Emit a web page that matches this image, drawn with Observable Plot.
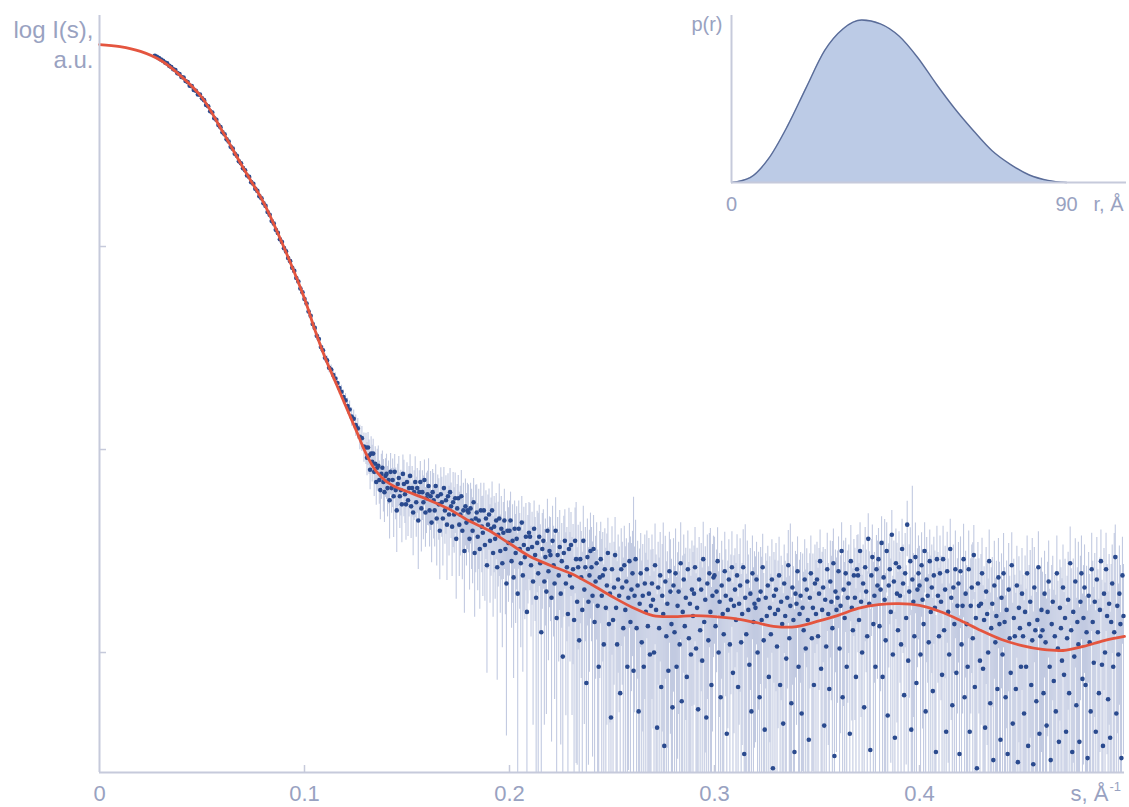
<!DOCTYPE html>
<html><head><meta charset="utf-8">
<script src="https://cdn.jsdelivr.net/npm/d3@7"></script>
<script src="https://cdn.jsdelivr.net/npm/@observablehq/plot@0.6"></script>
<style>
body{margin:0;background:#fff;}
#chart{position:relative;width:1129px;height:807px;font-family:"Liberation Sans",Arial,sans-serif;}
#chart svg{position:absolute;}
</style></head><body><div id="chart"></div>
<script>
// ---- fitted curve (red) : s [1/Å], log10 I ----
const fitS = [0,0.01,0.02,0.03,0.04,0.05,0.06,0.07,0.08,0.09,0.1,0.105,0.11,0.115,0.12,0.125,0.13,0.135,0.14,0.145,0.15,0.16,0.17,0.18,0.19,0.2,0.21,0.22,0.23,0.24,0.25,0.26,0.27,0.28,0.29,0.3,0.31,0.32,0.33,0.34,0.35,0.36,0.37,0.38,0.39,0.4,0.41,0.42,0.43,0.44,0.45,0.46,0.47,0.48,0.49,0.5];
const fitLogI = [-0.005,-0.015,-0.039,-0.084,-0.163,-0.266,-0.433,-0.611,-0.783,-1.005,-1.256,-1.409,-1.547,-1.665,-1.783,-1.901,-2.020,-2.108,-2.158,-2.187,-2.207,-2.246,-2.291,-2.350,-2.399,-2.463,-2.527,-2.571,-2.611,-2.665,-2.724,-2.778,-2.818,-2.823,-2.818,-2.823,-2.833,-2.852,-2.872,-2.872,-2.847,-2.818,-2.783,-2.764,-2.759,-2.768,-2.798,-2.842,-2.892,-2.936,-2.966,-2.985,-2.990,-2.970,-2.941,-2.921];

// ---- experimental points: s, log10 I, sigma (x1e-3, linear units) ----
const sExp = [
.027,.028,.029,.030,.031,.032,.033,.034,.035,.036,.037,.038,.039,.040,.041,.042,.043,.044,.045,.046,
.047,.048,.049,.050,.051,.052,.053,.054,.055,.056,.057,.058,.059,.060,.061,.062,.063,.064,.065,.066,
.067,.068,.069,.070,.071,.072,.073,.074,.075,.076,.077,.078,.079,.080,.081,.082,.083,.084,.085,.086,
.087,.088,.089,.090,.091,.092,.093,.094,.095,.096,.097,.098,.099,.100,.101,.102,.103,.104,.105,.106,
.107,.108,.109,.110,.111,.112,.113,.114,.115,.116,.117,.118,.119,.120,.121,.122,.123,.124,.125,.126,
.127,.128,.129,
.1300,.1305,.1310,.1315,.1320,.1325,.1330,.1335,.1340,.1345,.1350,.1355,.1360,.1365,.1370,.1375,.1380,.1385,.1390,.1395,
.1400,.1405,.1410,.1415,.1420,.1425,.1430,.1435,.1440,.1445,.1450,.1455,.1460,.1465,.1470,.1475,.1480,.1485,.1490,.1495,
.1500,.1505,.1510,.1515,.1520,.1525,.1530,.1535,.1540,.1545,.1550,.1555,.1560,.1565,.1570,.1575,.1580,.1585,.1590,.1595,
.1600,.1605,.1610,.1615,.1620,.1625,.1630,.1635,.1640,.1645,.1650,.1655,.1660,.1665,.1670,.1675,.1680,.1685,.1690,.1695,
.1700,.1705,.1710,.1715,.1720,.1725,.1730,.1735,.1740,.1745,.1750,.1755,.1760,.1765,.1770,.1775,.1780,.1785,.1790,.1795,
.1800,.1805,.1810,.1815,.1820,.1825,.1830,.1835,.1840,.1845,.1850,.1855,.1860,.1865,.1870,.1875,.1880,.1885,.1890,.1895,
.1900,.1905,.1910,.1915,.1920,.1925,.1930,.1935,.1940,.1945,.1950,.1955,.1960,.1965,.1970,.1975,.1980,.1985,.1990,.1995,
.2000,.2005,.2010,.2015,.2020,.2025,.2030,.2035,.2040,.2045,.2050,.2055,.2060,.2065,.2070,.2075,.2080,.2085,.2090,.2095,
.2100,.2105,.2110,.2115,.2120,.2125,.2130,.2135,.2140,.2145,.2150,.2155,.2160,.2165,.2170,.2175,.2180,.2185,.2190,.2195,
.2200,.2205,.2210,.2215,.2220,.2225,.2230,.2235,.2240,.2245,.2250,.2255,.2260,.2265,.2270,.2275,.2280,.2285,.2290,.2295,
.2300,.2305,.2310,.2315,.2320,.2325,.2330,.2335,.2340,.2345,.2350,.2355,.2360,.2365,.2370,.2375,.2380,.2385,.2390,.2395,
.2400,.2405,.2410,.2415,.2420,.2425,.2430,.2435,.2440,.2445,.2450,.2455,.2460,.2465,.2470,.2475,.2480,.2485,.2490,.2495,
.2500,.2505,.2510,.2515,.2520,.2525,.2530,.2535,.2540,.2545,.2550,.2555,.2560,.2565,.2570,.2575,.2580,.2585,.2590,.2595,
.2600,.2605,.2610,.2615,.2620,.2625,.2630,.2635,.2640,.2645,.2650,.2655,.2660,.2665,.2670,.2675,.2680,.2685,.2690,.2695,
.2700,.2705,.2710,.2715,.2720,.2725,.2730,.2735,.2740,.2745,.2750,.2755,.2760,.2765,.2770,.2775,.2780,.2785,.2790,.2795,
.2800,.2805,.2810,.2815,.2820,.2825,.2830,.2835,.2840,.2845,.2850,.2855,.2860,.2865,.2870,.2875,.2880,.2885,.2890,.2895,
.2900,.2905,.2910,.2915,.2920,.2925,.2930,.2935,.2940,.2945,.2950,.2955,.2960,.2965,.2970,.2975,.2980,.2985,.2990,.2995,
.3000,.3005,.3010,.3015,.3020,.3025,.3030,.3035,.3040,.3045,.3050,.3055,.3060,.3065,.3070,.3075,.3080,.3085,.3090,.3095,
.3100,.3105,.3110,.3115,.3120,.3125,.3130,.3135,.3140,.3145,.3150,.3155,.3160,.3165,.3170,.3175,.3180,.3185,.3190,.3195,
.3200,.3205,.3210,.3215,.3220,.3225,.3230,.3235,.3240,.3245,.3250,.3255,.3260,.3265,.3270,.3275,.3280,.3285,.3290,.3295,
.3300,.3305,.3310,.3315,.3320,.3325,.3330,.3335,.3340,.3345,.3350,.3355,.3360,.3365,.3370,.3375,.3380,.3385,.3390,.3395,
.3400,.3405,.3410,.3415,.3420,.3425,.3430,.3435,.3440,.3445,.3450,.3455,.3460,.3465,.3470,.3475,.3480,.3485,.3490,.3495,
.3500,.3505,.3510,.3515,.3520,.3525,.3530,.3535,.3540,.3545,.3550,.3555,.3560,.3565,.3570,.3575,.3580,.3585,.3590,.3595,
.3600,.3605,.3610,.3615,.3620,.3625,.3630,.3635,.3640,.3645,.3650,.3655,.3660,.3665,.3670,.3675,.3680,.3685,.3690,.3695,
.3700,.3705,.3710,.3715,.3720,.3725,.3730,.3735,.3740,.3745,.3750,.3755,.3760,.3765,.3770,.3775,.3780,.3785,.3790,.3795,
.3800,.3805,.3810,.3815,.3820,.3825,.3830,.3835,.3840,.3845,.3850,.3855,.3860,.3865,.3870,.3875,.3880,.3885,.3890,.3895,
.3900,.3905,.3910,.3915,.3920,.3925,.3930,.3935,.3940,.3945,.3950,.3955,.3960,.3965,.3970,.3975,.3980,.3985,.3990,.3995,
.4000,.4005,.4010,.4015,.4020,.4025,.4030,.4035,.4040,.4045,.4050,.4055,.4060,.4065,.4070,.4075,.4080,.4085,.4090,.4095,
.4100,.4105,.4110,.4115,.4120,.4125,.4130,.4135,.4140,.4145,.4150,.4155,.4160,.4165,.4170,.4175,.4180,.4185,.4190,.4195,
.4200,.4205,.4210,.4215,.4220,.4225,.4230,.4235,.4240,.4245,.4250,.4255,.4260,.4265,.4270,.4275,.4280,.4285,.4290,.4295,
.4300,.4305,.4310,.4315,.4320,.4325,.4330,.4335,.4340,.4345,.4350,.4355,.4360,.4365,.4370,.4375,.4380,.4385,.4390,.4395,
.4400,.4405,.4410,.4415,.4420,.4425,.4430,.4435,.4440,.4445,.4450,.4455,.4460,.4465,.4470,.4475,.4480,.4485,.4490,.4495,
.4500,.4505,.4510,.4515,.4520,.4525,.4530,.4535,.4540,.4545,.4550,.4555,.4560,.4565,.4570,.4575,.4580,.4585,.4590,.4595,
.4600,.4605,.4610,.4615,.4620,.4625,.4630,.4635,.4640,.4645,.4650,.4655,.4660,.4665,.4670,.4675,.4680,.4685,.4690,.4695,
.4700,.4705,.4710,.4715,.4720,.4725,.4730,.4735,.4740,.4745,.4750,.4755,.4760,.4765,.4770,.4775,.4780,.4785,.4790,.4795,
.4800,.4805,.4810,.4815,.4820,.4825,.4830,.4835,.4840,.4845,.4850,.4855,.4860,.4865,.4870,.4875,.4880,.4885,.4890,.4895,
.4900,.4905,.4910,.4915,.4920,.4925,.4930,.4935,.4940,.4945,.4950,.4955,.4960,.4965,.4970,.4975,.4980,.4985,.4990,.4995];

const logIExp = [
-0.060,-0.066,-0.072,-0.079,-0.085,-0.094,-0.098,-0.110,-0.116,-0.127,
-0.131,-0.146,-0.150,-0.165,-0.168,-0.185,-0.190,-0.208,-0.210,-0.229,
-0.233,-0.251,-0.252,-0.270,-0.279,-0.303,-0.309,-0.334,-0.340,-0.368,
-0.376,-0.402,-0.412,-0.437,-0.447,-0.472,-0.483,-0.509,-0.518,-0.543,
-0.553,-0.580,-0.590,-0.614,-0.624,-0.650,-0.657,-0.683,-0.691,-0.716,
-0.726,-0.752,-0.762,-0.787,-0.800,-0.830,-0.844,-0.874,-0.887,-0.918,
-0.933,-0.964,-0.978,-1.008,-1.024,-1.057,-1.072,-1.105,-1.120,-1.155,
-1.172,-1.207,-1.225,-1.259,-1.281,-1.320,-1.341,-1.382,-1.401,-1.440,
-1.456,-1.495,-1.511,-1.548,-1.561,-1.597,-1.606,-1.633,-1.650,-1.672,
-1.697,-1.716,-1.741,-1.758,-1.786,-1.803,-1.838,-1.849,-1.880,-1.896,
-1.937,-1.944,-1.985,
-1.99,-2.04,-1.99,-2.03,-2.10,-2.02,-2.06,-2.02,-2.11,-2.07,-2.16,-2.09,-2.08,-2.15,-2.20,-2.12,-2.09,-2.16,-2.21,-2.13,
-2.12,-2.19,-2.15,-2.25,-2.11,-2.19,-2.15,-2.23,-2.11,-2.20,-2.30,-2.17,-2.14,-2.23,-2.20,-2.27,-2.12,-2.17,-2.22,-2.27,
-2.16,-2.25,-2.19,-2.13,-2.28,-2.19,-2.31,-2.21,-2.16,-2.26,-2.19,-2.35,-2.21,-2.16,-2.29,-2.21,-2.26,-2.15,-2.31,-2.24,
-2.22,-2.18,-2.30,-2.23,-2.36,-2.21,-2.25,-2.30,-2.18,-2.34,-2.23,-2.27,-2.40,-2.22,-2.26,-2.34,-2.19,-2.30,-2.25,-2.37,
-2.23,-2.32,-2.21,-2.28,-2.38,-2.26,-2.32,-2.24,-2.44,-2.29,-2.24,-2.37,-2.32,-2.23,-2.40,-2.30,-2.50,-2.28,-2.36,-2.30,
-2.31,-2.44,-2.29,-2.35,-2.40,-2.26,-2.51,-2.34,-2.31,-2.43,-2.35,-2.49,-2.30,-2.38,-2.41,-2.30,-2.47,-2.34,-2.57,-2.37,
-2.32,-2.45,-2.39,-2.30,-2.51,-2.38,-2.44,-2.35,-2.58,-2.42,-2.34,-2.50,-2.39,-2.56,-2.41,-2.35,-2.49,-2.66,-2.40,-2.46,
-2.40,-2.35,-2.55,-2.45,-2.63,-2.39,-2.51,-2.44,-2.71,-2.39,-2.49,-2.56,-2.36,-2.62,-2.47,-2.53,-2.43,-2.80,-2.49,-2.41,
-2.43,-2.57,-2.48,-2.65,-2.39,-2.52,-2.73,-2.46,-2.61,-2.43,-2.56,-2.90,-2.49,-2.45,-2.65,-2.53,-2.70,-2.40,-2.60,-2.50,
-2.52,-2.73,-2.45,-2.57,-2.66,-2.40,-2.83,-2.52,-2.62,-2.48,-2.71,-2.55,-3.02,-2.51,-2.45,-2.66,-2.58,-2.81,-2.49,-2.62,
-2.47,-2.68,-2.59,-2.84,-2.45,-2.54,-2.75,-2.58,-2.94,-2.54,-2.63,-2.79,-2.45,-2.69,-2.58,-3.15,-2.53,-2.75,-2.62,-2.50,
-2.58,-2.72,-2.49,-2.85,-2.65,-2.56,-2.77,-3.07,-2.63,-2.54,-2.72,-2.62,-2.96,-2.59,-2.78,-2.67,-2.51,-2.86,-2.71,-3.32,
-2.59,-2.84,-2.68,-2.52,-2.78,-2.96,-2.64,-2.72,-3.20,-2.59,-2.68,-2.88,-2.57,-2.79,-2.65,-3.07,-2.73,-2.55,-2.85,-2.69,
-2.61,-3.09,-2.72,-2.54,-2.88,-2.67,-3.29,-2.76,-2.61,-2.95,-2.72,-3.07,-2.66,-2.80,-2.59,-2.87,-2.71,-3.01,-2.77,-2.66,
-2.74,-3.00,-2.57,-2.79,-3.37,-2.68,-2.88,-2.62,-3.17,-2.72,-2.81,-3.46,-2.65,-2.92,-2.76,-3.09,-2.60,-2.70,-2.86,-3.27,
-2.67,-2.90,-2.61,-3.07,-2.77,-2.70,-2.96,-2.56,-3.24,-2.80,-2.64,-2.87,-2.73,-3.12,-2.59,-2.93,-2.76,-3.01,-2.69,-2.82,
-2.71,-2.58,-2.98,-2.78,-3.28,-2.64,-2.89,-2.69,-3.04,-2.54,-2.85,-2.74,-3.32,-2.66,-2.94,-2.61,-2.80,-3.16,-2.72,-2.63,
-2.62,-2.87,-2.70,-2.55,-3.00,-2.75,-3.22,-2.67,-2.81,-2.91,-2.60,-2.72,-3.40,-2.79,-2.64,-2.96,-2.74,-2.58,-3.10,-2.77,
-2.69,-2.84,-2.62,-3.17,-2.76,-2.67,-2.95,-2.81,-2.58,-3.50,-2.73,-2.91,-2.65,-2.79,-3.06,-2.71,-3.29,-2.61,-2.85,-2.76,
-2.78,-2.64,-3.00,-2.74,-3.22,-2.70,-2.84,-2.58,-2.94,-3.38,-2.73,-2.82,-2.67,-3.12,-2.78,-2.91,-2.64,-3.57,-2.72,-2.81,
-2.69,-2.97,-2.79,-2.62,-3.16,-2.75,-2.86,-3.35,-2.66,-2.82,-3.03,-2.73,-2.57,-2.93,-2.77,-3.25,-2.68,-2.84,-3.49,-2.71,
-2.76,-2.60,-3.07,-2.81,-2.72,-3.30,-2.78,-2.89,-2.64,-2.98,-2.69,-2.84,-3.43,-2.73,-2.61,-2.93,-2.78,-3.16,-2.66,-2.81,
-2.64,-2.92,-2.71,-2.55,-3.08,-2.79,-2.68,-3.36,-2.74,-2.97,-2.59,-2.81,-3.18,-2.65,-2.75,-2.88,-2.56,-3.51,-2.70,-2.79,
-2.73,-2.60,-2.98,-2.77,-2.50,-3.22,-2.69,-2.83,-2.61,-3.07,-2.73,-2.66,-3.40,-2.55,-2.78,-2.89,-2.62,-2.73,-3.12,-2.59,
-2.62,-2.84,-2.50,-2.75,-3.00,-2.66,-3.27,-2.58,-2.70,-2.92,-2.44,-2.76,-3.48,-2.62,-2.53,-2.86,-2.72,-3.07,-2.59,-2.67,
-2.54,-2.87,-2.69,-2.46,-3.12,-2.63,-2.74,-2.94,-2.50,-3.31,-2.67,-2.59,-2.80,-2.42,-3.01,-2.65,-3.42,-2.56,-2.71,-2.89,
-2.58,-2.72,-2.96,-2.49,-2.66,-3.21,-2.61,-2.83,-2.37,-3.04,-2.70,-2.55,-3.38,-2.64,-2.75,-2.92,-2.53,-3.15,-2.69,-2.61,
-2.67,-3.01,-2.57,-2.74,-2.86,-2.50,-3.29,-2.64,-2.72,-2.95,-2.55,-2.80,-2.68,-3.19,-2.62,-2.78,-3.49,-2.54,-2.72,-2.92,
-2.61,-2.75,-3.11,-2.54,-2.89,-2.69,-3.39,-2.60,-2.80,-3.01,-2.49,-2.73,-3.26,-2.68,-2.86,-2.59,-3.10,-2.77,-2.66,-3.50,
-2.60,-2.96,-2.77,-2.54,-3.22,-2.71,-2.86,-3.07,-2.59,-3.39,-2.77,-2.68,-2.93,-2.52,-3.17,-2.83,-3.57,-2.66,-2.77,-3.04,
-2.76,-2.61,-3.08,-2.84,-3.37,-2.70,-2.81,-3.00,-2.55,-3.25,-2.88,-2.76,-3.53,-2.67,-2.95,-2.82,-3.18,-2.63,-2.86,-3.43,
-2.73,-3.01,-2.61,-2.85,-3.22,-2.79,-3.50,-2.69,-2.93,-3.10,-2.57,-3.35,-2.83,-2.92,-3.18,-2.67,-3.54,-2.78,-2.88,-3.07,
-2.71,-2.92,-3.30,-2.80,-3.07,-2.61,-3.46,-2.86,-2.75,-3.16,-2.94,-3.55,-2.68,-2.89,-3.24,-2.84,-2.58,-3.40,-2.92,-2.79,
-2.89,-3.20,-2.71,-2.95,-3.36,-2.80,-2.65,-3.07,-3.53,-2.86,-2.75,-3.14,-2.92,-3.29,-2.61,-2.98,-3.44,-2.78,-2.88,-3.04,
-2.68,-3.11,-2.83,-3.39,-2.93,-2.74,-3.20,-2.56,-2.89,-3.49,-2.80,-3.02,-2.65,-3.26,-2.85,-2.96,-3.44,-2.75,-2.61,-3.13,
-2.83,-2.68,-3.16,-2.90,-3.52,-2.72,-2.95,-3.29,-2.59,-2.85,-3.05,-2.75,-3.39,-2.64,-2.90,-3.20,-2.79,-2.55,-3.06,-3.46,
-2.71,-3.00,-2.59,-2.82,-3.23,-2.76,-3.42,-2.85,-2.66,-3.07,-2.90,-2.53,-3.30,-2.77,-3.01,-2.71,-2.86,-3.52,-2.62,-2.82];

const sigmaExp = [
0.3,0.3,0.3,0.4,0.3,0.4,0.3,0.4,0.4,0.3,0.4,0.4,0.4,0.5,0.4,0.4,0.5,0.4,0.5,0.5,0.5,0.5,0.6,
0.5,0.6,0.5,0.6,0.6,0.6,0.7,0.6,0.6,0.7,0.7,0.7,0.6,0.7,0.8,0.7,0.7,0.8,0.8,0.7,0.8,0.8,0.9,0.8,0.8,0.9,0.8,0.9,0.9,0.9,
0.9,1.0,0.9,1.0,1.0,0.9,1.0,1.1,1.0,1.0,1.1,1.0,1.1,1.1,1.2,1.1,1.1,1.2,1.1,1.2,1.2,1.3,1.2,1.2,1.3,1.2,1.3,1.3,1.3,1.4,
1.3,1.4,1.4,1.3,1.4,1.5,1.4,1.4,1.5,1.5,1.4,1.5,1.6,1.5,1.5,1.6,1.5,1.6,1.6,1.7,
1.8,1.7,1.9,1.8,1.6,2.0,1.8,1.7,1.9,1.8,1.6,1.9,2.1,1.7,1.8,1.9,1.7,2.0,1.8,1.6,
1.9,1.8,1.7,2.0,1.8,1.6,1.9,2.2,1.7,1.8,1.9,1.7,2.0,1.8,1.6,1.9,1.8,2.1,1.7,1.8,
1.7,1.9,1.8,2.0,1.6,1.8,1.9,1.7,2.3,1.8,1.6,1.9,1.7,1.8,2.0,1.7,1.9,1.8,1.6,1.9,
1.8,2.4,1.7,1.9,1.6,1.8,2.0,1.7,1.8,1.9,1.6,1.8,1.7,2.1,1.8,1.9,1.7,1.6,1.8,2.0,
1.7,1.8,1.9,1.6,1.8,2.2,1.7,1.9,1.8,1.6,1.7,1.9,1.8,2.0,1.7,1.8,1.6,1.9,1.7,1.8,
1.8,1.6,1.7,1.9,1.8,1.7,1.6,2.1,1.8,1.7,1.9,1.6,1.8,1.7,2.0,1.8,1.6,1.7,1.9,1.7,
1.6,1.8,1.7,1.9,1.6,1.7,1.8,1.6,1.9,1.7,2.2,1.6,1.8,1.7,1.6,1.9,1.7,1.8,1.6,1.7,
1.6,1.7,1.5,1.8,1.6,1.5,1.7,1.6,1.9,1.5,1.6,1.7,1.5,1.6,1.8,1.5,1.7,1.6,1.5,1.6,
1.7,1.5,1.6,1.8,1.5,1.6,1.7,1.5,2.4,1.6,1.5,1.7,1.6,1.5,1.8,1.6,1.5,1.7,1.6,1.5,
1.6,1.5,1.7,1.5,1.6,1.8,1.5,1.6,1.5,1.7,1.6,1.5,1.8,1.6,1.5,1.7,1.5,1.6,1.9,1.5,
1.5,1.6,1.7,1.5,1.6,2.6,1.5,1.6,1.7,1.5,1.6,1.5,1.7,1.6,1.5,1.8,1.6,1.5,1.6,1.7,
1.5,1.6,1.5,1.7,1.5,1.6,1.5,1.8,1.6,1.5,1.7,1.5,1.6,1.5,1.6,1.7,1.5,1.6,1.5,1.7,
1.6,1.5,1.4,1.6,1.5,1.7,1.5,1.4,1.6,1.5,1.4,1.6,1.5,1.7,1.4,1.5,1.6,1.5,2.3,1.4,
1.5,5.0,1.4,1.6,1.5,1.4,1.6,1.5,1.4,1.7,1.5,1.4,1.6,1.5,1.4,1.5,1.7,1.4,1.5,1.6,
1.4,1.5,1.6,1.4,1.5,1.4,1.6,1.5,1.4,1.5,2.8,1.4,1.5,1.6,1.4,1.5,1.4,1.6,1.5,1.4,
1.5,1.4,1.6,1.5,1.4,1.5,1.4,1.6,1.5,1.4,1.5,1.7,1.4,1.5,1.4,1.6,1.5,1.4,1.5,1.6,
1.4,1.5,1.4,1.6,1.5,1.4,1.5,1.4,1.7,1.5,1.4,1.5,1.4,1.6,1.5,1.4,2.5,1.4,1.5,1.4,
1.3,1.4,1.2,1.3,1.5,1.3,1.2,1.4,1.3,1.2,1.4,1.3,1.5,1.2,1.3,1.4,1.2,1.3,1.4,1.3,
1.2,1.3,1.4,1.2,1.3,1.5,1.3,1.2,1.4,1.3,2.4,1.2,1.3,1.4,1.2,1.3,1.5,1.3,1.2,1.4,
1.3,1.2,1.4,1.3,1.2,1.3,1.5,1.2,1.3,1.4,1.2,1.3,1.2,1.4,1.3,1.2,1.3,1.5,1.2,1.3,
1.4,1.3,1.2,1.3,1.4,1.2,1.3,1.5,1.2,1.3,1.4,1.2,1.3,1.2,2.6,1.3,1.4,1.2,1.3,1.2,
1.3,1.2,1.4,1.3,1.2,1.3,1.4,1.2,1.3,1.5,1.2,1.3,1.4,1.2,1.3,1.2,1.4,1.3,1.2,1.3,
1.2,1.4,1.3,1.2,1.3,1.5,1.2,1.3,1.4,1.2,1.3,1.2,1.4,1.3,1.2,2.2,1.3,1.4,1.2,1.3,
1.3,1.2,1.4,1.3,1.2,1.3,1.5,1.3,1.2,1.4,1.3,1.2,1.3,1.4,1.2,1.3,1.2,1.4,1.3,1.2,
1.4,1.3,1.2,1.3,1.4,1.2,1.3,1.5,1.2,1.3,1.2,1.4,1.3,1.2,1.3,1.4,1.2,1.3,1.2,1.4,
1.2,1.3,1.4,1.2,1.3,1.2,2.7,1.3,1.2,1.4,1.3,1.2,1.3,1.2,1.4,1.3,1.2,1.3,1.5,1.2,
1.3,1.2,1.4,1.3,1.2,1.3,1.4,1.2,1.3,1.2,1.4,1.3,1.2,4.3,1.3,1.2,1.4,1.3,1.2,1.3,
1.2,1.3,1.2,1.4,1.3,1.2,1.3,1.4,1.2,1.3,1.2,1.4,1.3,1.2,1.3,1.5,1.2,1.3,1.2,1.4,
1.3,1.2,1.4,1.3,1.2,1.3,1.2,1.4,1.3,1.2,1.3,1.4,1.2,1.3,1.2,1.4,1.3,1.2,1.3,1.2,
1.2,1.3,1.2,1.4,1.3,1.2,1.3,1.2,1.4,1.3,1.2,1.3,2.3,1.2,1.3,1.4,1.2,1.3,1.2,1.3,
1.3,1.2,1.3,1.2,1.4,1.3,1.2,1.3,1.2,1.4,1.3,1.2,1.3,1.4,1.2,1.3,1.2,1.3,1.4,1.2,
1.2,1.3,1.4,1.2,1.3,1.2,1.3,1.4,1.2,1.3,1.2,1.3,1.4,1.2,1.3,1.2,1.4,1.3,1.2,1.3,
1.3,1.2,1.3,1.4,1.2,1.3,1.2,1.3,1.4,1.2,2.5,1.3,1.2,1.3,1.4,1.2,1.3,1.2,1.4,1.3,
1.2,1.3,1.2,1.3,1.4,1.2,1.3,1.2,1.4,1.3,1.2,1.3,1.2,1.4,1.3,1.2,1.3,1.2,1.3,1.4,
1.3,1.2,1.4,1.3,1.2,1.3,1.2,1.4,1.3,1.2,1.3,1.2,1.4,1.3,1.2,2.4,1.3,1.2,1.3,1.2,
1.2,1.3,1.2,1.4,1.3,1.2,1.3,1.2,1.3,1.4,1.2,1.3,1.2,1.4,1.3,1.2,1.3,1.2,1.4,1.3,
1.3,1.2,1.3,1.2,1.4,1.3,1.2,1.3,1.2,1.4,2.6,1.3,1.2,1.3,1.2,1.4,1.3,1.2,1.3,1.2];

// ---- axes ----
const xTicks = [0, 0.1, 0.2, 0.3, 0.4];
const xTickLabels = ["0", "0.1", "0.2", "0.3", "0.4"];
const yTicks = [-1, -2, -3];

// ---- inset: distance distribution p(r) ----
const rVals = [0,5,10,15,20,25,30,35,40,45,50,55,60,65,70,75,80,85,90];
const pVals = [0,0.030,0.148,0.345,0.58,0.81,0.945,0.998,0.975,0.90,0.768,0.605,0.453,0.318,0.195,0.11,0.046,0.013,0];
const rTicks = [0, 90];

// ---------------------------------------------------------------
const axisColor = "#c6cadb", textColor = "#99a2c1";
const font = "'Liberation Sans', Arial, Helvetica, sans-serif";
const yDomain = [-3.591, 0.138];

const n = Math.min(sExp.length, logIExp.length, sigmaExp.length);
const obs = [];
for (let i = 0; i < n; i++) {
  const I = Math.pow(10, logIExp[i]), e = sigmaExp[i] * 1e-3;
  obs.push({s: sExp[i], v: logIExp[i],
    hi: Math.log10(I + e),
    lo: e >= I ? yDomain[0] : Math.max(yDomain[0], Math.log10(I - e))});
}
const fit = fitS.map((s, i) => ({s, v: fitLogI[i]}));
const pr = rVals.map((r, i) => ({r, p: pVals[i]}));
const xLabel = new Map(xTicks.map((t, i) => [t, xTickLabels[i]]));

const W = 1129, H = 807, mL = 99, mR = 5, mT = 15, mB = 35;
const main = Plot.plot({
  width: W, height: H, marginLeft: mL, marginRight: mR, marginTop: mT, marginBottom: mB,
  x: {domain: [0, 0.5], axis: null},
  y: {domain: yDomain, axis: null},
  style: {fontFamily: font, color: textColor, background: "transparent", overflow: "visible"},
  marks: [
    Plot.ruleX(obs, {x: "s", y1: "lo", y2: "hi", stroke: "#c2cae1", strokeWidth: 1.1, clip: true}),
    Plot.dot(obs, {x: "s", y: "v", r: 2.3, fill: "#2a4a8e", stroke: "none"}),
    Plot.line(fit, {x: "s", y: "v", stroke: "#e4553f", strokeWidth: 2.8, curve: "catmull-rom"}),
    Plot.ruleX([0], {stroke: axisColor, strokeWidth: 2}),
    Plot.ruleY([yDomain[0]], {stroke: axisColor, strokeWidth: 2}),
    Plot.ruleX(xTicks.slice(1), {stroke: axisColor, strokeWidth: 1.5, insetTop: H - mT - mB - 7}),
    Plot.ruleY(yTicks, {stroke: axisColor, strokeWidth: 1.5, insetRight: W - mL - mR - 7}),
    Plot.axisX(xTicks, {tickSize: 0, tickPadding: 13, fontSize: 22, label: null, fill: textColor, tickFormat: d => xLabel.get(d)}),
    Plot.text(["s, Å"], {frameAnchor: "bottom-right", textAnchor: "end", lineAnchor: "top", dx: -16, dy: 13, fontSize: 22, fill: textColor}),
    Plot.text(["-1"], {frameAnchor: "bottom-right", textAnchor: "start", lineAnchor: "top", dx: -15, dy: 9, fontSize: 13, fill: textColor}),
    Plot.text(["log I(s),\na.u."], {frameAnchor: "top-left", textAnchor: "end", lineAnchor: "top", lineHeight: 1.25, dx: -6, dy: 1, fontSize: 24, fill: textColor})
  ]
});

const IW = 429, IH = 215;
const inset = Plot.plot({
  width: IW, height: IH, marginLeft: 31, marginRight: 3, marginTop: 15, marginBottom: 33,
  x: {domain: [0, 106.1], axis: null},
  y: {domain: [0, 1.026], axis: null},
  style: {fontFamily: font, color: textColor, background: "transparent", overflow: "visible"},
  marks: [
    Plot.areaY(pr, {x: "r", y: "p", fill: "#bccbe6", curve: "monotone-x"}),
    Plot.lineY(pr, {x: "r", y: "p", stroke: "#5a6c98", strokeWidth: 1.4, curve: "monotone-x"}),
    Plot.ruleX([0], {stroke: axisColor, strokeWidth: 2}),
    Plot.ruleY([0], {stroke: axisColor, strokeWidth: 2}),
    Plot.axisX(rTicks, {tickSize: 0, tickPadding: 14, fontSize: 20, label: null, fill: textColor}),
    Plot.text(["r, Å"], {frameAnchor: "bottom-right", textAnchor: "end", lineAnchor: "top", dx: -3, dy: 14, fontSize: 20, fill: textColor}),
    Plot.text(["p(r)"], {frameAnchor: "top-left", textAnchor: "end", lineAnchor: "top", dx: -9, dy: 1, fontSize: 20, fill: textColor})
  ]
});

const box = document.getElementById("chart");
main.style.left = "0px"; main.style.top = "0px";
inset.style.left = "700px"; inset.style.top = "0px";
box.appendChild(main);
box.appendChild(inset);
</script>
</body></html>
